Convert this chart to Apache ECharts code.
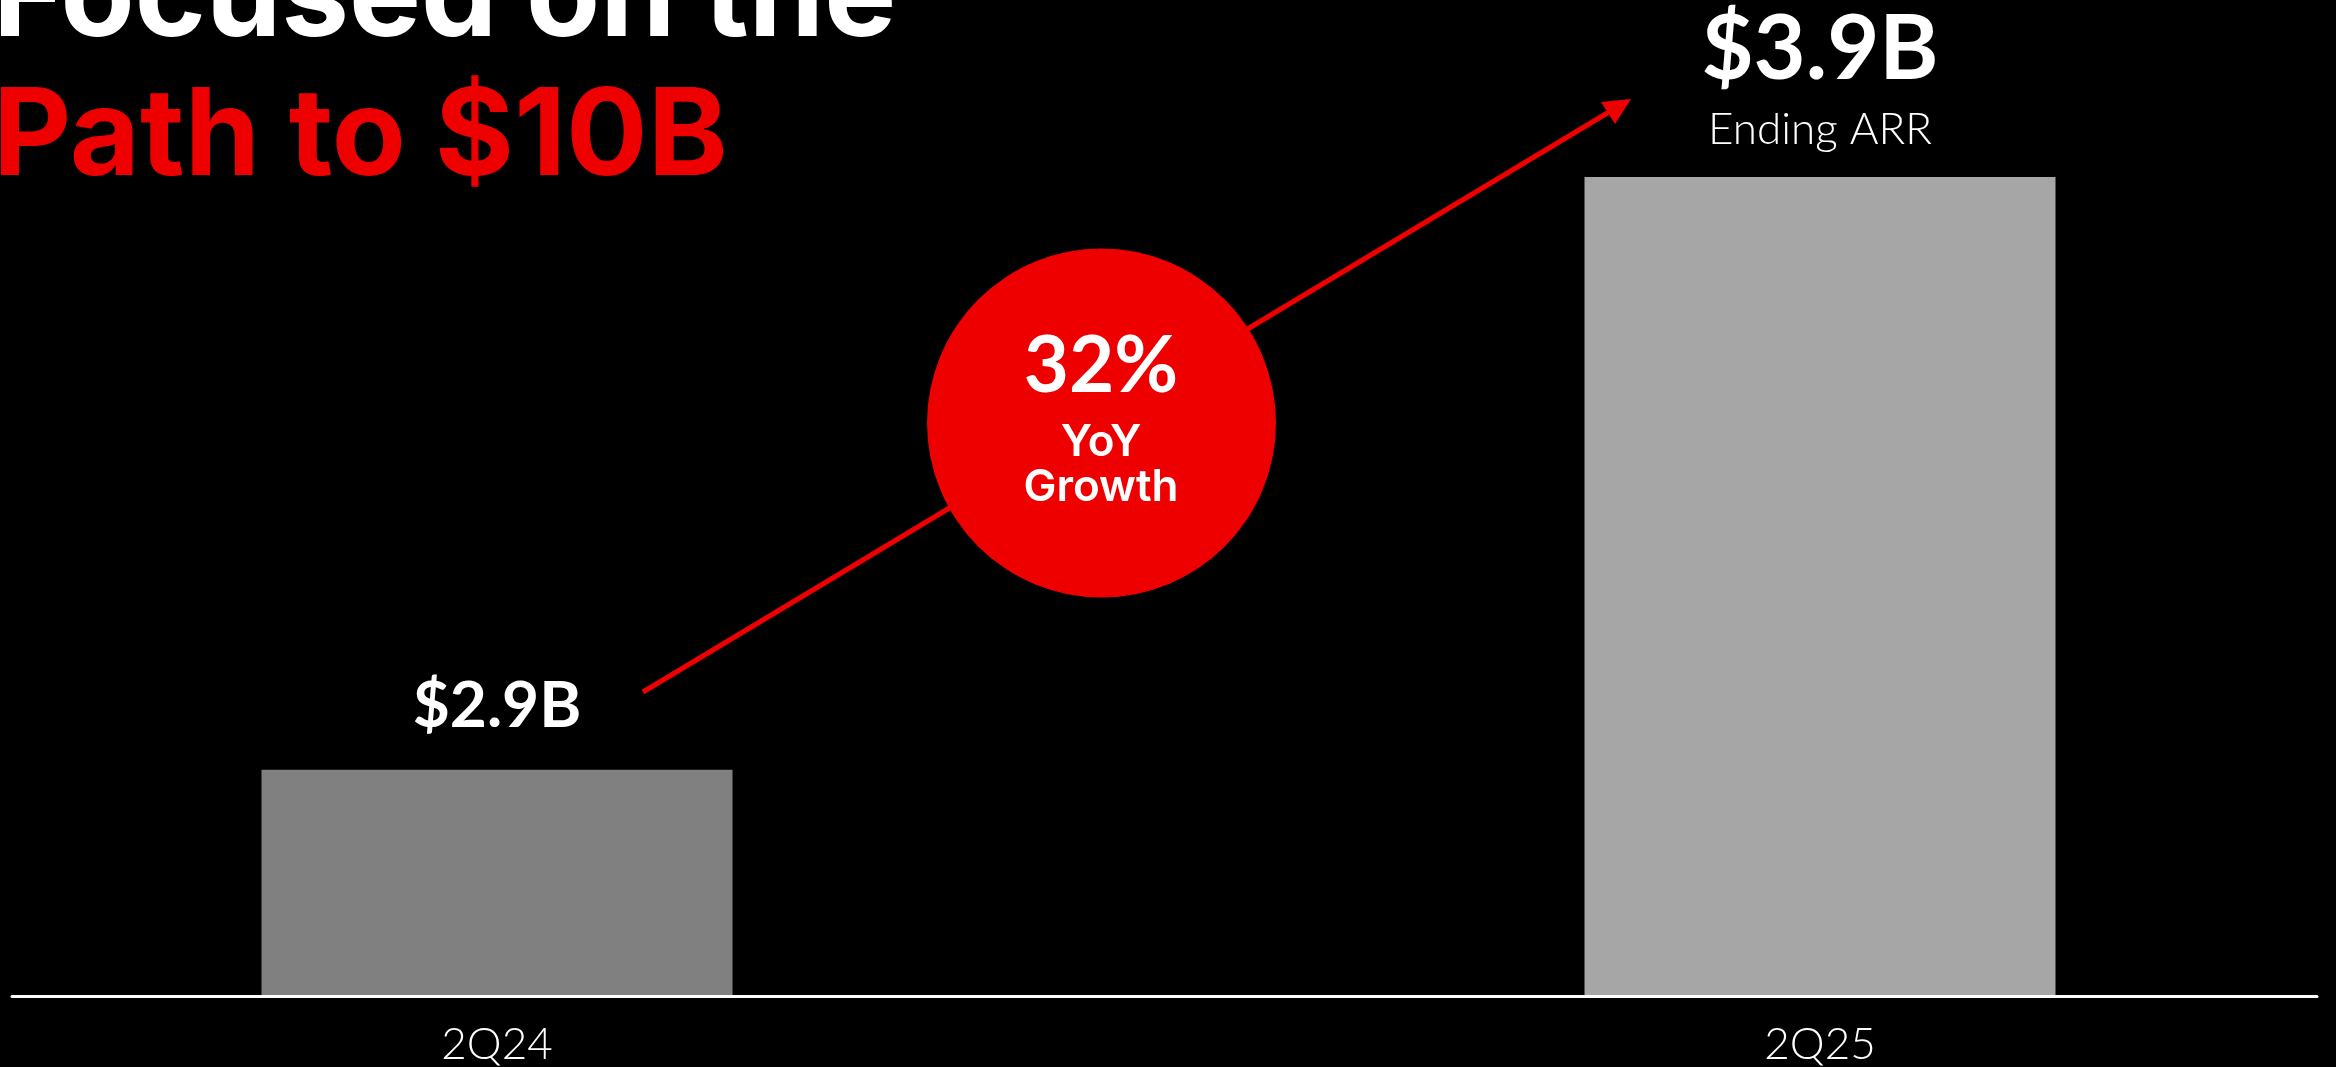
<!DOCTYPE html>
<html>
<head>
<meta charset="utf-8">
<style>
  html, body { margin: 0; padding: 0; background: #000; }
  #chart { width: 2336px; height: 1067px; }
</style>
<script src="https://cdn.jsdelivr.net/npm/echarts@6/dist/echarts.min.js"></script>
</head>
<body>
<div id="chart"></div>
<script>
// ---- data ----
const categories = ['2Q24', '2Q25'];
const arrValues = [2.9, 3.9];
const valueLabels = ['$2.9B', '$3.9B'];
const subLabels = ['', 'Ending ARR'];
const titleLines = ['Focused on the', 'Path to $10B'];
const growthValue = '32%';
const growthLines = ['YoY', 'Growth'];

// ---- styles ----
const RED = '#EE0000';
const barPalette = ['#808080', '#A6A6A6'];
const FONT = 'Lato, "Noto Sans", sans-serif';
const TITLE_FONT = 'Inter, "Noto Sans", sans-serif';

const chart = echarts.init(document.getElementById('chart'));

const barData = arrValues.map((v, i) => ({
  value: v,
  itemStyle: { color: barPalette[i] },
  label: {
    distance: subLabels[i] ? 13 : 31,
    formatter: subLabels[i]
      ? '{v|' + valueLabels[i] + '}\n{s|' + subLabels[i] + '}'
      : '{w|' + valueLabels[i] + '}'
  }
}));

const option = {
  backgroundColor: '#000',
  animation: false,
  title: {
    left: -7,
    top: -70,
    padding: 0,
    text: '{a|' + titleLines[0] + '}\n{b|' + titleLines[1] + '}',
    textStyle: {
      rich: {
        a: { fontFamily: TITLE_FONT, fontWeight: 'bold', fontSize: 121, color: '#fff', lineHeight: 139 },
        b: { fontFamily: TITLE_FONT, fontWeight: 'bold', fontSize: 121, color: RED, lineHeight: 139 }
      }
    }
  },
  grid: [
    { left: 497, right: 516, top: 177, bottom: 72 },
    { left: 12, right: 19, top: 177, bottom: 71 }
  ],
  xAxis: [
    {
      type: 'category',
      gridIndex: 0,
      data: categories,
      boundaryGap: false,
      axisLine: { show: false },
      axisTick: { show: false },
      splitLine: { show: false },
      axisLabel: {
        color: '#fff',
        fontFamily: FONT,
        fontWeight: 300,
        fontSize: 44,
        margin: 28
      }
    },
    {
      type: 'value',
      gridIndex: 1,
      min: 0,
      max: 1,
      axisLine: { show: true, onZero: false, lineStyle: { color: '#fff', width: 3 } },
      axisTick: { show: false },
      axisLabel: { show: false },
      splitLine: { show: false }
    }
  ],
  yAxis: [
    { type: 'value', gridIndex: 0, min: 2.52, max: 3.9, show: false, splitLine: { show: false } },
    { type: 'value', gridIndex: 1, min: 0, max: 1, show: false, splitLine: { show: false } }
  ],
  series: [
    {
      type: 'bar',
      xAxisIndex: 0,
      yAxisIndex: 0,
      barWidth: 471,
      clip: true,
      data: barData,
      z: 3,
      label: {
        show: true,
        position: 'top',
        rich: {
          w: { fontFamily: FONT, fontWeight: 'bold', fontSize: 64, color: '#fff', lineHeight: 64 },
          v: { fontFamily: FONT, fontWeight: 'bold', fontSize: 90, color: '#fff', lineHeight: 90 },
          s: { fontFamily: FONT, fontWeight: 300, fontSize: 44, color: '#fff', lineHeight: 69 }
        }
      }
    },
    {
      type: 'line',
      xAxisIndex: 1,
      yAxisIndex: 1,
      data: [],
      silent: true
    }
  ],
  graphic: [
    {
      type: 'line',
      z: 10,
      shape: { x1: 643, y1: 692, x2: 1609, y2: 112 },
      style: { stroke: RED, lineWidth: 5 }
    },
    {
      type: 'polygon',
      z: 10,
      shape: { points: [[1631, 99], [1601, 102], [1615, 124]] },
      style: { fill: RED }
    },
    {
      type: 'circle',
      z: 11,
      shape: { cx: 1101.5, cy: 423, r: 174.5 },
      style: { fill: RED }
    },
    {
      type: 'text',
      z: 12,
      x: 1101,
      y: 367,
      style: {
        text: growthValue, fill: '#fff', font: 'bold 78px ' + FONT,
        align: 'center', verticalAlign: 'middle'
      }
    },
    {
      type: 'text',
      z: 12,
      x: 1101,
      y: 443,
      style: {
        text: growthLines[0], fill: '#fff', font: '600 44px ' + TITLE_FONT,
        align: 'center', verticalAlign: 'middle'
      }
    },
    {
      type: 'text',
      z: 12,
      x: 1101,
      y: 488,
      style: {
        text: growthLines[1], fill: '#fff', font: '600 44px ' + TITLE_FONT,
        align: 'center', verticalAlign: 'middle'
      }
    }
  ]
};

chart.setOption(option);
</script>
</body>
</html>
